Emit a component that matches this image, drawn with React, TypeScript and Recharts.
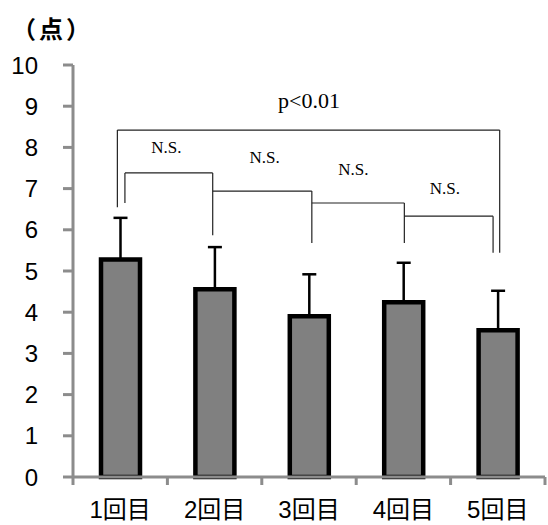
import React from 'react';
import { BarChart, Bar, XAxis, YAxis, ErrorBar, ReferenceLine, ReferenceDot, Label } from 'recharts';

const categories = ['1回目', '2回目', '3回目', '4回目', '5回目'];
const positions = [1, 2, 3, 4, 5];
const means = [5.28, 4.56, 3.9, 4.24, 3.56];
const sds = [1.01, 1.02, 1.02, 0.96, 0.96];
const yTicks = [0, 1, 2, 3, 4, 5, 6, 7, 8, 9, 10];
const xTicks = [0.5, 1, 1.5, 2, 2.5, 3, 3.5, 4, 4.5, 5, 5.5];

// significance brackets (x in category-position units, y in points)
const brackets: [number, number][][] = [
  [[0.97, 6.55], [0.97, 8.42], [5.02, 8.42], [5.02, 5.44]],
  [[1.05, 6.65], [1.05, 7.38], [1.98, 7.38], [1.98, 5.87]],
  [[1.98, 6.94], [3.03, 6.94], [3.03, 5.68]],
  [[3.03, 6.65], [4.01, 6.65], [4.01, 5.68]],
  [[4.01, 6.33], [4.95, 6.33], [4.95, 5.44]],
];
const sigLabels = ['p<0.01', 'N.S.', 'N.S.', 'N.S.', 'N.S.'];
const sigLabelX = [3.0, 1.49, 2.53, 3.47, 4.44];
const sigLabelY = [9.15, 8.0, 7.77, 7.48, 7.02];
const sigLabelSize = [22, 17, 17, 17, 17];

const data = categories.map((c, i) => ({ name: c, pos: positions[i], mean: means[i], err: [0, sds[i]] }));

const AXIS = '#8c8c8c';

const XTick = (props: any) => {
  const { x, y, payload } = props;
  const v = payload.value as number;
  const idx = positions.indexOf(v);
  if (idx < 0) {
    return <line x1={x} y1={y} x2={x} y2={y + 8} stroke={AXIS} strokeWidth={3} />;
  }
  return (
    <text
      x={x}
      y={y + 41}
      textAnchor="middle"
      fill="#000"
      fontSize={24}
      fontFamily='"Liberation Sans", "Noto Sans CJK JP", sans-serif'
    >
      {categories[idx]}
    </text>
  );
};

export default function App() {
  const segs: { a: [number, number]; b: [number, number] }[] = [];
  brackets.forEach((pts) => {
    for (let i = 0; i < pts.length - 1; i++) segs.push({ a: pts[i], b: pts[i + 1] });
  });
  return (
    <div style={{ position: 'absolute', left: 0, top: 0, width: 548, height: 525, background: '#fff' }}>
      <div
        style={{
          position: 'absolute',
          left: 12,
          top: 11,
          fontSize: 24,
          fontWeight: 'bold',
          letterSpacing: 3,
          fontFamily: '"Noto Sans CJK JP", sans-serif',
          lineHeight: '34px',
        }}
      >
        （点）
      </div>
      <BarChart
        width={548}
        height={525}
        data={data}
        margin={{ top: 65, right: 3, bottom: 0, left: 0 }}
        barSize={39}
      >
        <XAxis
          dataKey="pos"
          type="number"
          domain={[0.5, 5.5]}
          allowDataOverflow
          ticks={xTicks}
          interval={0}
          tickSize={0}
          tickMargin={0}
          height={48}
          axisLine={{ stroke: AXIS, strokeWidth: 3 }}
          tickLine={false}
          tick={<XTick />}
        />
        <YAxis
          domain={[0, 10]}
          ticks={yTicks}
          width={73}
          interval={0}
          tickSize={10}
          tickMargin={25}
          axisLine={{ stroke: AXIS, strokeWidth: 3 }}
          tickLine={{ stroke: AXIS, strokeWidth: 3 }}
          tick={{ fill: '#000', fontSize: 24, fontFamily: '"Liberation Sans", Arial, sans-serif' }}
        />
        <Bar dataKey="mean" fill="#808080" stroke="#000" strokeWidth={4.5} isAnimationActive={false}>
          <ErrorBar dataKey="err" direction="y" width={7} stroke="#000" strokeWidth={2.5} isAnimationActive={false} />
        </Bar>
        {segs.map((s, i) => (
          <ReferenceLine
            key={'s' + i}
            segment={[{ x: s.a[0], y: s.a[1] }, { x: s.b[0], y: s.b[1] }]}
            stroke="#222"
            strokeWidth={1.2}
            ifOverflow="visible"
          />
        ))}
        {sigLabels.map((t, i) => (
          <ReferenceDot
            key={'l' + i}
            x={sigLabelX[i]}
            y={sigLabelY[i]}
            r={1}
            fill="none"
            stroke="none"
            ifOverflow="visible"
          >
            <Label
              value={t}
              position="center"
              fill="#000"
              fontSize={sigLabelSize[i]}
              fontFamily='"Liberation Serif", "Times New Roman", serif'
            />
          </ReferenceDot>
        ))}
      </BarChart>
    </div>
  );
}
